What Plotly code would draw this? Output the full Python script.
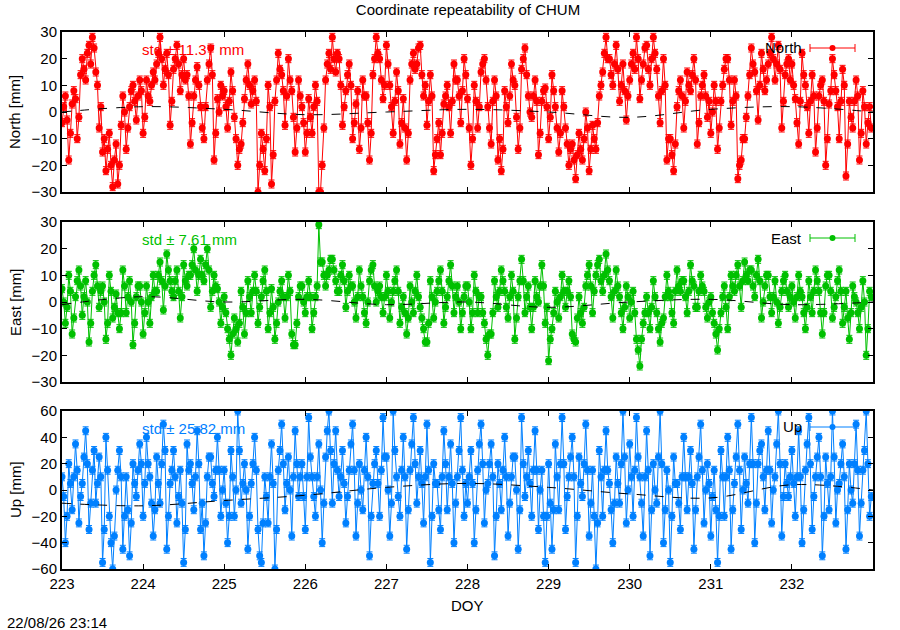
import plotly.graph_objects as go

# ---------------- data (half-hourly solutions, DOY 223-232) ----------------
north = [
    -4, 2, 6, -3, -18, -8, 3, 8, 5, -10, -2, 14,
    20, 16, 12, 22, 25, 18, 28, 24, 15, 10, -6, 2,
    -15, -10, -22, -14, -8, -20, -28, -18, -12, -27, -20, -5,
    6, 0, -14, -6, 2, 8, 10, 4, -3, 6, 12, 8,
    -8, -2, 12, 6, 4, 10, 15, 12, 18, 22, 28, 20,
    10, 16, 22, 14, -5, 4, 16, 20, 25, 18, 8, 14,
    20, 12, 14, 6, -12, -4, 6, 12, 17, 10, 2, -6,
    -10, 2, 12, 18, 24, 14, -18, -8, 5, 0, 10, 6,
    8, 2, -6, 4, 15, 8, -2, -10, -20, -14, -12, -4,
    5, 12, 18, 10, 3, 8, 12, 4, -30, -20, -8, -14,
    -22, -10, 10, 2, -27, -16, 4, 12, 22, 16, 14, 8,
    -5, 6, 20, 12, 8, -2, -15, -6, 12, 6, 2, -4,
    -15, -8, 5, -2, -8, 2, 10, 4, -30, -30, -20, -6,
    12, 18, 22, 16, 28, 20, 15, 22, 20, 10, -5, 2,
    8, 14, 18, 10, -10, -4, 3, 8, -14, -6, 12, 6,
    6, -4, -18, -8, 14, 20, 28, 22, 20, 12, 5, 10,
    25, 18, 10, 2, -8, 4, 15, 8, -12, -4, 5, -6,
    -18, -8, 12, 18, 22, 16, 18, 24, 25, 14, 6, 10,
    -5, 4, 14, 6, -22, -16, -10, -4, -16, -8, 3, 6,
    10, 2, -8, 4, 18, 12, 12, 6, -4, 8, 20, 14,
    5, -6, -20, -10, 10, 4, -6, 2, 15, 18, 20, 12,
    2, -6, -12, 4, 12, 6, -18, -10, -22, -14, 8, 2,
    -4, 6, 18, 12, 10, -2, -14, -6, 16, 20, 24, 14,
    6, 0, -2, 6, 12, 4, -16, -8, 4, 8, 9, 2,
    -10, -2, 14, 8, 2, -6, -15, -8, 8, 2, -6, -12,
    -20, -14, -12, -18, -25, -16, -8, -14, -18, -10, 0, -6,
    -22, -14, -5, -10, -14, -4, 6, 10, 15, 22, 28, 20,
    20, 14, 10, 18, 25, 16, 4, 10, 18, 8, -3, 6,
    12, 18, 22, 16, 28, 20, 5, 12, 18, 24, 25, 16,
    10, 20, 28, 22, 16, 6, -4, 8, 20, 10, -18, -10,
    -10, -16, -22, -12, 2, 8, 12, 6, -6, 4, 15, 10,
    8, 14, 20, 12, -12, -4, 6, 10, 14, 6, -2, 4,
    -8, 0, 10, 4, -14, -6, 4, 10, 16, 20, 20, 12,
    -5, 4, 12, 6, -25, -20, -18, -10, -10, -2, 6, 14,
    24, 18, 15, 8, -3, 10, 22, 16, 8, 12, 18, 22,
    28, 20, 12, 18, 25, 16, -6, 4, 14, 18, 20, 12,
    18, 10, 5, -4, -12, 4, 22, 14, 10, 2, -8, 4,
    14, 6, -15, -6, 6, 10, 12, 4, -20, -10, 3, 8,
    20, 14, 8, 2, -10, 4, 16, 10, -24, -12, 4, -2,
    -6, 4, 12, 6, -18, -8, 8, 2, -12, -4, 2, -6,
]
east = [
    5, 0, -8, -2, 10, 4, -12, -6, 2, 8, 12, 6,
    -5, 2, 8, 0, -15, -8, 4, 10, 14, 6, -2, 4,
    6, 0, -14, -8, 10, 4, -6, -2, 3, -4, -10, -4,
    12, 6, -4, 2, 8, 0, -16, -8, 2, 6, 6, 0,
    -12, -4, 6, 0, -8, 2, 10, 4, 4, 10, 15, 8,
    -3, 6, 18, 12, 8, 4, 2, 8, 12, 4, -6, 2,
    14, 8, 6, 10, 10, 14, 20, 12, 4, 10, 16, 10,
    8, 14, 20, 12, -2, 4, 10, 6, 5, 0, -8, -2,
    2, -4, -10, -14, -20, -12, -6, -10, -15, -8, 4, -2,
    -12, -4, 8, 2, -4, 4, 10, 4, -8, -2, 2, 8,
    12, 4, -10, -4, 5, -2, -14, -8, 0, 4, 8, 2,
    -6, 2, 10, 4, -12, -16, -16, -8, 2, 6, 6, 0,
    -4, 2, 8, 2, -10, -4, 2, 6, 29, 15, 15, 10,
    6, 10, 12, 16, 16, 12, 8, 4, 4, 10, 14, 8,
    -2, 4, 10, 6, 6, 0, -6, 2, 12, 6, 2, -4,
    -8, 0, 8, 12, 14, 6, 0, 4, 6, 2, -4, 2,
    10, 4, -6, 0, 4, 8, 12, 4, -8, -2, 2, -4,
    -12, -6, 6, 0, -4, 4, 10, 2, -2, -6, -10, -15,
    -15, -8, 8, 2, -6, 0, 4, 8, 12, 4, -8, -2,
    2, 8, 14, 6, -4, 2, 6, 0, -10, -4, 2, 6,
    6, 0, -10, -4, 10, 4, -4, 2, 2, -4, -8, -14,
    -20, -12, -12, -4, 8, 2, -2, 4, 12, 8, 4, -2,
    -6, 2, 10, 4, -14, -6, 2, 8, 16, 8, -4, 2,
    6, -2, -10, -2, 8, 2, 0, 6, 14, 6, -8, -2,
    -22, -14, -10, -4, 4, 0, -6, 2, 10, 4, -2, 4,
    8, 2, -12, -14, -15, -6, 2, -4, -8, -2, 6, 10,
    14, 6, -4, 4, 10, 14, 16, 8, 4, 10, 18, 12,
    8, 2, -6, 4, 12, 6, 2, -4, -10, -2, 6, 2,
    -6, 0, 4, -4, -14, -18, -24, -14, -8, -4, 2, -4,
    -10, -2, 8, 2, -4, -10, -15, -8, -6, 2, 10, 4,
    2, -4, -8, 4, 12, 6, 4, 8, 8, 2, -4, 4,
    14, 8, 6, -2, -2, 4, 10, 6, 4, -2, -6, 0,
    2, -4, -8, -12, -18, -10, -4, 2, 6, -2, -10, 2,
    10, 6, 4, 10, 14, 6, -2, 8, 15, 10, 8, 12,
    12, 6, 2, 10, 16, 8, -6, 0, 6, 10, 10, 2,
    -4, 2, 8, 0, -8, -2, 4, 8, 10, 4, -2, 2,
    6, 0, -6, 2, 10, 4, 2, -4, -10, -2, 8, 2,
    -4, 4, 12, 8, 4, -4, -12, -4, 6, 10, 10, 4,
    -6, -2, 2, 8, 12, 4, -8, -2, 4, -6, -14, -4,
    6, 2, 0, -4, -10, -2, 8, 0, -20, -10, 4, 2,
]
up = [
    10, -5, -40, -20, 20, 5, -15, 10, 35, 15, -25, -5,
    5, 25, 45, 20, -30, -10, 15, 30, -10, 5, 25, 10,
    -55, -30, 40, 15, -20, -40, -60, -35, 0, 15, 30, 10,
    -45, -20, 10, -15, -50, -25, 20, 5, -5, 15, 35, 20,
    -20, 5, 40, 20, 10, -10, -35, -15, 25, 5, -10, 20,
    50, 30, -45, -20, 5, 15, 30, 10, -25, -5, 15, -10,
    -55, -30, 35, 15, 20, 5, -15, 10, 45, 20, -30, -10,
    -50, -25, 10, 25, 25, 5, -5, 15, 40, 15, -20, 0,
    15, -10, -40, -20, 30, 10, -20, 0, 60, 30, -10, 5,
    20, 0, -45, -20, 5, 20, 40, 15, -30, -50, -55, -25,
    10, -5, -25, 10, 35, 5, -60, -30, 15, 30, 50, 20,
    -15, 5, 25, 0, -35, 10, 45, 20, -5, 10, 20, -5,
    -30, 10, 55, 25, 10, -5, -20, 10, 35, 0, -40, -10,
    25, 45, 60, 30, -10, 20, 45, 15, -5, 10, 30, 5,
    -25, -5, 15, 35, 50, 15, -35, -10, 20, 0, -15, 15,
    40, 10, -50, -20, 5, 20, 30, 5, -20, 15, 55, 25,
    25, 0, -35, -10, 60, 30, 10, -5, -20, 15, 40, 10,
    -45, -15, 15, 35, 55, 20, -10, 10, 30, 5, -25, 10,
    50, 15, -55, -20, 20, 5, 5, -15, -30, 10, 45, 20,
    -15, 10, 35, 5, -40, -10, 10, 30, 55, 15, -20, 5,
    -10, 10, 30, 5, -40, -15, 15, 35, 50, 20, -25, 0,
    5, 20, 35, 10, -50, -20, 20, 5, -15, 15, 40, 10,
    -35, -10, 10, 25, 25, 0, -45, -15, 55, 20, -5, 10,
    30, 5, -20, 15, 45, 15, -30, 0, 15, -20, -55, -20,
    20, -10, -45, -15, 35, 10, -15, 20, 55, 20, -30, -5,
    10, 25, 40, 10, -55, -20, 25, 5, -5, 20, 50, 15,
    -35, -10, 15, -20, -60, -25, 30, 10, -20, 15, 45, 15,
    5, -15, -40, -10, 25, 5, -10, 20, 60, 25, -25, 0,
    35, 10, -20, 15, 55, 25, 10, -10, -35, 10, 45, 15,
    -50, -15, 20, 0, -10, 25, 60, 20, -40, -15, 15, 0,
    -55, -20, 25, 5, 5, -10, -30, 10, 40, 10, -15, 10,
    30, 5, -45, -15, 10, 25, 50, 15, -25, 0, 20, 5,
    -35, -5, 15, -15, -55, -20, 30, 10, -20, 10, 40, 15,
    -45, -15, 5, 25, 50, 15, -30, 0, 25, 5, -10, 20,
    55, 20, -40, -10, 20, 30, 35, 10, -15, 15, 45, 15,
    -25, 0, 10, 35, 60, 20, -35, -5, 20, 5, -5, 10,
    30, 5, -20, 10, 45, 10, -40, -15, 15, 35, 55, 20,
    -30, -5, 10, 25, 40, 10, -50, -20, 25, 5, -15, 10,
    60, 25, -25, 0, 5, 20, 35, 10, -45, -15, 20, 0,
    -10, 20, 50, 15, -35, -10, 15, 30, 60, 20, -20, -5,
]
# formal errors (mm) drawn as error bars
north_sigma = 1.5
east_sigma = 1.5
up_sigma = 3.0

trend_doy = [223, 224, 225, 226, 227, 228, 229, 230, 231, 232, 233]
north_trend = [0, 2, 1, -1, 0, 1, 0, -2, 1, 2, 0]
east_trend = [-1, 2, 0, 1, -1, 0, -2, 0, 1, -1, 0]
up_trend = [-10, -12, -8, -4, 2, 5, 2, -3, -6, 4, 0]

start_doy = 223
samples_per_day = 48
doy = [start_doy + i / samples_per_day for i in range(len(north))]

comps = ["North", "East", "Up"]
series = [north, east, up]
sigmas = [north_sigma, east_sigma, up_sigma]
trends = [north_trend, east_trend, up_trend]
colors = ["#ff0000", "#00c000", "#0080ff"]
stds = ["std ± 11.37 mm", "std ± 7.61 mm", "std ± 25.82 mm"]
yranges = [[-30, 30], [-30, 30], [-60, 60]]
ydticks = [10, 10, 20]
xticks = [223, 224, 225, 226, 227, 228, 229, 230, 231, 232]

# ---------------- layout geometry (pixels) ----------------
W, H = 900, 630
L, R = 62, 873
TOP, BOT = 32, 569
panels = [(32, 192), (222, 382), (411, 569)]


def px(x):
    return (x - L) / (R - L)


def py(y):
    return (BOT - y) / (BOT - TOP)


FONT = "Liberation Sans, Arial, sans-serif"
FS = 15
fig = go.Figure()
annotations = []
shapes = []

for k in range(3):
    ax = "" if k == 0 else str(k + 1)
    fig.add_trace(go.Scatter(
        x=doy, y=series[k], mode="lines+markers", xaxis="x" + ax, yaxis="y" + ax,
        line=dict(color=colors[k], width=1),
        marker=dict(color=colors[k], size=7, symbol="circle"),
        error_y=dict(type="constant", value=sigmas[k], color=colors[k],
                     thickness=1, width=3),
        showlegend=False, hoverinfo="skip"))
    fig.add_trace(go.Scatter(
        x=trend_doy, y=trends[k], mode="lines", xaxis="x" + ax, yaxis="y" + ax,
        line=dict(color="black", width=1, dash="dash", shape="spline"),
        showlegend=False, hoverinfo="skip"))
    top, bot = panels[k]
    fig.layout["xaxis" + ax] = dict(
        domain=[0, 1], anchor="y" + ax, range=[223, 233],
        tickvals=xticks, ticks="inside", ticklen=5, tickcolor="black",
        showticklabels=(k == 2), showgrid=False, zeroline=False,
        showline=True, linecolor="black", linewidth=2, mirror="allticks",
        tickfont=dict(family=FONT, size=FS, color="black"))
    fig.layout["yaxis" + ax] = dict(
        domain=[py(bot), py(top)], anchor="x" + ax, range=yranges[k],
        dtick=ydticks[k], ticks="inside", ticklen=5, tickcolor="black",
        showgrid=False, zeroline=False,
        showline=True, linecolor="black", linewidth=2, mirror="allticks",
        tickfont=dict(family=FONT, size=FS, color="black"))
    # y axis title
    annotations.append(dict(
        x=px(15), y=py((top + bot) / 2), xref="paper", yref="paper",
        xanchor="center", yanchor="middle",
        text=comps[k] + " [mm]", textangle=-90, showarrow=False,
        font=dict(family=FONT, size=FS, color="black")))
    # std text
    annotations.append(dict(
        x=px(140), y=py(top + 17), xref="paper", yref="paper",
        xanchor="left", yanchor="middle",
        text=stds[k], showarrow=False,
        font=dict(family=FONT, size=FS, color=colors[k])))
    # legend
    ly = top + 16
    annotations.append(dict(
        x=px(804), y=py(ly), xref="paper", yref="paper",
        xanchor="right", yanchor="middle",
        text=comps[k], showarrow=False,
        font=dict(family=FONT, size=FS, color="black")))
    shapes.append(dict(type="line", xref="paper", yref="paper",
                       x0=px(810), x1=px(855), y0=py(ly), y1=py(ly),
                       line=dict(color=colors[k], width=1)))
    for cx in (810, 855):
        shapes.append(dict(type="line", xref="paper", yref="paper",
                           x0=px(cx), x1=px(cx), y0=py(ly - 4), y1=py(ly + 4),
                           line=dict(color=colors[k], width=1)))
    shapes.append(dict(type="circle", xref="paper", yref="paper",
                       x0=px(829.5), x1=px(835.5), y0=py(ly - 3), y1=py(ly + 3),
                       fillcolor=colors[k], line=dict(color=colors[k], width=0)))

annotations.append(dict(
    x=px(467), y=py(605), xref="paper", yref="paper",
    xanchor="center", yanchor="middle", text="DOY", showarrow=False,
    font=dict(family=FONT, size=FS, color="black")))
annotations.append(dict(
    x=px(5), y=py(622), xref="paper", yref="paper",
    xanchor="left", yanchor="middle",
    text="22/08/26 23:14", showarrow=False,
    font=dict(family=FONT, size=FS, color="black")))

fig.update_layout(
    width=W, height=H, autosize=False,
    margin=dict(l=L, r=W - R, t=TOP, b=H - BOT),
    paper_bgcolor="white", plot_bgcolor="white",
    title=dict(text="Coordinate repeatability of CHUM", x=px(468), xref="paper",
               xanchor="center", y=1 - 10 / H, yanchor="middle",
               font=dict(family=FONT, size=FS, color="black")),
    annotations=annotations, shapes=shapes,
)

fig.write_html("out.html", config={"displayModeBar": False},
               post_script="document.body.style.margin='0px';")
